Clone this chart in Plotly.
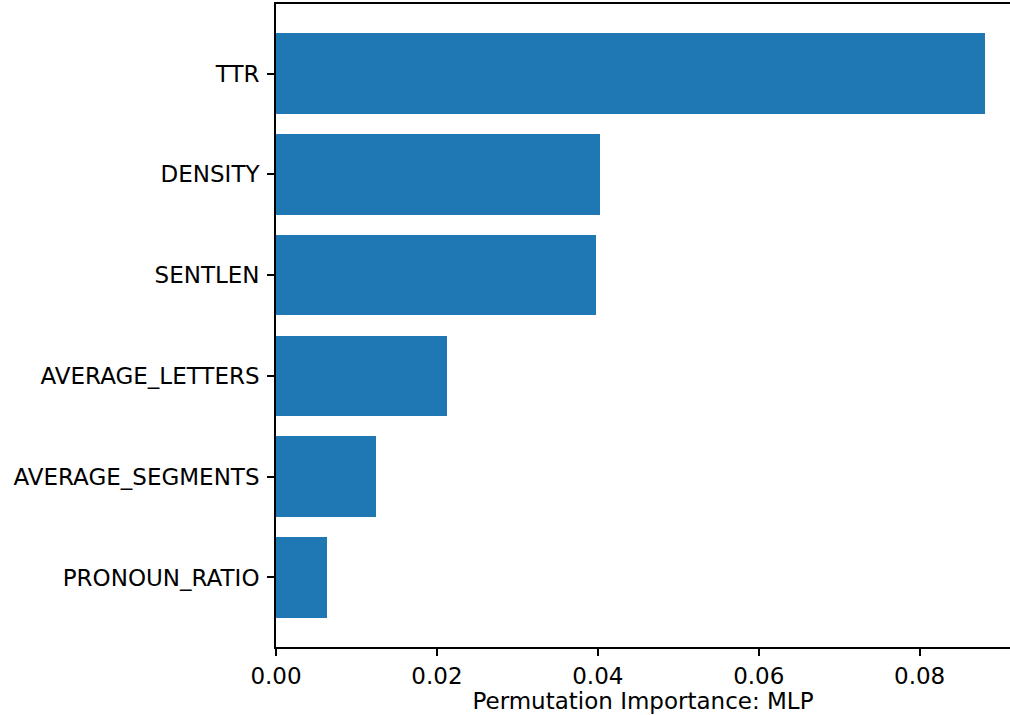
import plotly.graph_objects as go

# Feature names, listed bottom-to-top as drawn on the y axis
features = ["PRONOUN_RATIO", "AVERAGE_SEGMENTS", "AVERAGE_LETTERS",
            "SENTLEN", "DENSITY", "TTR"]
importance = [0.00638, 0.01247, 0.02129, 0.03973, 0.04031, 0.08816]

x_ticks = [0.0, 0.02, 0.04, 0.06, 0.08]
x_title = "Permutation Importance: MLP"

FONT = "DejaVu Sans"
FONT_SIZE = 23
BAR_COLOR = "#1f77b4"
LINE_W = 1.8

fig = go.Figure(
    go.Bar(
        x=importance,
        y=features,
        orientation="h",
        width=0.8,
        marker=dict(color=BAR_COLOR, line=dict(width=0)),
    )
)

fig.update_layout(
    width=1010,
    height=715,
    margin=dict(l=276, r=0, t=4, b=68),
    paper_bgcolor="white",
    plot_bgcolor="white",
    showlegend=False,
    font=dict(family=FONT, size=FONT_SIZE, color="black"),
    bargap=0,
)

fig.update_xaxes(
    range=[0, 0.09123],
    tickvals=x_ticks,
    tickformat=".2f",
    ticks="outside",
    ticklen=7,
    tickwidth=LINE_W,
    tickcolor="black",
    showline=True,
    linecolor="black",
    linewidth=LINE_W,
    mirror=True,
    showgrid=False,
    zeroline=False,
    tickfont=dict(family=FONT, size=FONT_SIZE, color="black"),
    title=dict(text=x_title, font=dict(family=FONT, size=FONT_SIZE, color="black"),
               standoff=4),
)

fig.update_yaxes(
    type="category",
    categoryorder="array",
    categoryarray=features,
    range=[-0.69, 5.69],
    ticks="outside",
    ticklen=7,
    tickwidth=LINE_W,
    tickcolor="black",
    ticklabelstandoff=3,
    showline=True,
    linecolor="black",
    linewidth=LINE_W,
    mirror=False,
    showgrid=False,
    zeroline=False,
    tickfont=dict(family=FONT, size=FONT_SIZE, color="black"),
)

fig.write_html("out.html")
